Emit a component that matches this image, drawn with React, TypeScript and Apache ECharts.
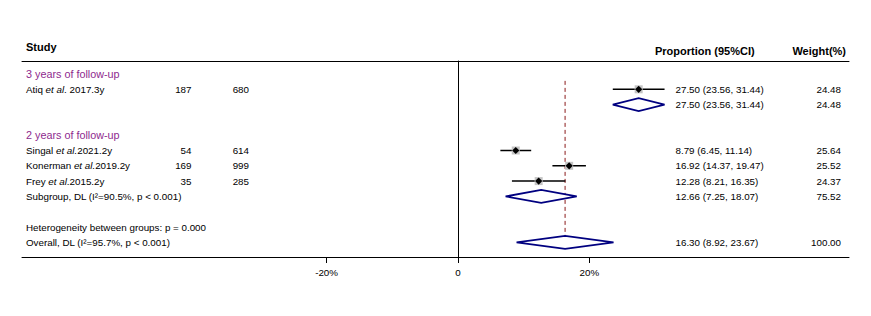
import React, { useEffect, useRef } from "react";
import * as echarts from "echarts";

// ---------- data ----------
const groupTitles = ["3 years of follow-up", "2 years of follow-up"];
const groupRows = [0, 4];

const studyLabels = [
  "{n|Atiq }{i|et al}{n|. 2017.3y}",
  "{n|Singal }{i|et al.}{n|2021.2y}",
  "{n|Konerman }{i|et al.}{n|2019.2y}",
  "{n|Frey }{i|et al}{n|.2015.2y}",
];
const studyRows = [1, 5, 6, 7];
const events = [187, 54, 169, 35];
const totals = [680, 614, 999, 285];
const estimates = [27.5, 8.79, 16.92, 12.28];
const lowers = [23.56, 6.45, 14.37, 8.21];
const uppers = [31.44, 11.14, 19.47, 16.35];
const weights = [24.48, 25.64, 25.52, 24.37];

const pooledLabels = ["", "Subgroup, DL (I²=90.5%, p < 0.001)", "Overall, DL (I²=95.7%, p < 0.001)"];
const pooledRows = [2, 8, 11];
const pooledEst = [27.5, 12.66, 16.3];
const pooledLo = [23.56, 7.25, 8.92];
const pooledHi = [31.44, 18.07, 23.67];
const pooledWeights = [24.48, 75.52, 100.0];

const heterogeneityText = "Heterogeneity between groups: p = 0.000";
const heterogeneityRow = 10;
const overallEstimate = 16.3;
const refLineRows = [0.45, 11.4];
const xTickValues = [-20, 0, 20];

// ---------- layout ----------
const W = 871;
const H = 316;
const ZERO_PX = 458;
const PX_PER_UNIT = 6.57;
const LEFT_PX = 22;
const RIGHT_PX = 849;
const TOP_PX = 61;
const BOTTOM_PX = 257;
const ROW0_PX = 74;
const ROW_H = 15.3;
const FONT = "'Liberation Sans', Arial, sans-serif";
const FS = 9.8;

const rowY = (r: number) => ROW0_PX + ROW_H * r;
const X_MIN = (LEFT_PX - ZERO_PX) / PX_PER_UNIT;
const X_MAX = (RIGHT_PX - ZERO_PX) / PX_PER_UNIT;
const Y_MIN = (TOP_PX - ROW0_PX) / ROW_H;
const Y_MAX = (BOTTOM_PX - ROW0_PX) / ROW_H;

const COL_NAME = 26;
const COL_EVENTS = 191.5;
const COL_TOTAL = 249;
const COL_CI = 675.5;
const COL_WEIGHT = 841;

const fmtCI = (e: number, l: number, h: number) =>
  `${e.toFixed(2)} (${l.toFixed(2)}, ${h.toFixed(2)})`;

function txt(text: string, x: number, y: number, opts: any = {}) {
  return {
    type: "text",
    x,
    y,
    silent: true,
    style: {
      text,
      fontFamily: FONT,
      fontSize: FS,
      fill: "#000",
      align: "left",
      verticalAlign: "middle",
      ...opts,
    },
  };
}

export default function App() {
  const ref = useRef<HTMLDivElement>(null);
  useEffect(() => {
    if (!ref.current) return;
    const chart = echarts.init(ref.current, undefined, { renderer: "svg" });

    const graphics: any[] = [];
    graphics.push(txt("Study", COL_NAME, 47.3, { fontWeight: "bold", fontSize: 11 }));
    graphics.push(txt("Proportion (95%CI)", 655, 50.7, { fontWeight: "bold", fontSize: 11 }));
    graphics.push(txt("Weight(%)", 846, 50.7, { fontWeight: "bold", fontSize: 11, align: "right" }));

    groupTitles.forEach((t, i) => {
      graphics.push(txt(t, COL_NAME, rowY(groupRows[i]), { fill: "#8e2a8e", fontSize: 10.8 }));
    });
    studyLabels.forEach((t, i) => {
      const y = rowY(studyRows[i]);
      graphics.push(
        txt(t, COL_NAME, y, {
          rich: {
            n: { fontFamily: FONT, fontSize: FS, fill: "#000" },
            i: { fontFamily: FONT, fontSize: FS, fill: "#000", fontStyle: "italic" },
          },
        })
      );
      graphics.push(txt(String(events[i]), COL_EVENTS, y, { align: "right" }));
      graphics.push(txt(String(totals[i]), COL_TOTAL, y, { align: "right" }));
      graphics.push(txt(fmtCI(estimates[i], lowers[i], uppers[i]), COL_CI, y));
      graphics.push(txt(weights[i].toFixed(2), COL_WEIGHT, y, { align: "right" }));
    });
    pooledLabels.forEach((t, i) => {
      const y = rowY(pooledRows[i]);
      if (t) graphics.push(txt(t, COL_NAME, y));
      graphics.push(txt(fmtCI(pooledEst[i], pooledLo[i], pooledHi[i]), COL_CI, y));
      graphics.push(txt(pooledWeights[i].toFixed(2), COL_WEIGHT, y, { align: "right" }));
    });
    graphics.push(txt(heterogeneityText, COL_NAME, rowY(heterogeneityRow)));

    const studyData = estimates.map((e, i) => [e, lowers[i], uppers[i], studyRows[i]]);
    const pooledData = pooledEst.map((e, i) => [e, pooledLo[i], pooledHi[i], pooledRows[i]]);

    chart.setOption({
      animation: false,
      grid: {
        left: LEFT_PX,
        right: W - RIGHT_PX,
        top: TOP_PX,
        bottom: H - BOTTOM_PX,
        containLabel: false,
      },
      xAxis: [
        {
          type: "value",
          min: X_MIN,
          max: X_MAX,
          position: "bottom",
          splitLine: { show: false },
          axisLine: { show: true, onZero: false, lineStyle: { color: "#000", width: 1 } },
          axisTick: {
            show: true,
            length: 6,
            customValues: xTickValues,
            lineStyle: { color: "#000", width: 1 },
          },
          axisLabel: {
            show: true,
            customValues: xTickValues,
            margin: 10,
            fontFamily: FONT,
            fontSize: FS,
            color: "#000",
            formatter: (v: number) => (v === 0 ? "0" : `${v}%`),
          },
        },
        {
          type: "value",
          min: X_MIN,
          max: X_MAX,
          position: "top",
          splitLine: { show: false },
          axisLine: { show: true, onZero: false, lineStyle: { color: "#000", width: 1 } },
          axisTick: { show: false },
          axisLabel: { show: false },
        },
      ],
      yAxis: {
        type: "value",
        inverse: true,
        min: Y_MIN,
        max: Y_MAX,
        splitLine: { show: false },
        axisLine: { show: true, onZero: true, lineStyle: { color: "#000", width: 1 } },
        axisTick: { show: false },
        axisLabel: { show: false },
      },
      graphic: graphics,
      series: [
        {
          type: "custom",
          name: "ref",
          xAxisIndex: 0,
          data: [[overallEstimate, refLineRows[0], refLineRows[1]]],
          renderItem: (params: any, api: any) => {
            const a = api.coord([api.value(0), api.value(1)]);
            const b = api.coord([api.value(0), api.value(2)]);
            return {
              type: "line",
              shape: { x1: a[0], y1: a[1], x2: b[0], y2: b[1] },
              style: { stroke: "#8b1a1a", lineWidth: 1, lineDash: [4, 3] },
            };
          },
        },
        {
          type: "custom",
          name: "studies",
          xAxisIndex: 0,
          data: studyData,
          renderItem: (params: any, api: any) => {
            const e = api.value(0);
            const l = api.value(1);
            const h = api.value(2);
            const r = api.value(3);
            const pL = api.coord([l, r]);
            const pH = api.coord([h, r]);
            const pE = api.coord([e, r]);
            const d = 3.6;
            return {
              type: "group",
              children: [
                {
                  type: "line",
                  shape: { x1: pL[0], y1: pL[1], x2: pH[0], y2: pH[1] },
                  style: { stroke: "#000", lineWidth: 1.5 },
                },
                {
                  type: "rect",
                  shape: { x: pE[0] - 4, y: pE[1] - 4, width: 8, height: 8 },
                  style: { fill: "#c4c4c4" },
                },
                {
                  type: "polygon",
                  shape: {
                    points: [
                      [pE[0] - d, pE[1]],
                      [pE[0], pE[1] - d],
                      [pE[0] + d, pE[1]],
                      [pE[0], pE[1] + d],
                    ],
                  },
                  style: { fill: "#000" },
                },
              ],
            };
          },
        },
        {
          type: "custom",
          name: "pooled",
          xAxisIndex: 0,
          data: pooledData,
          renderItem: (params: any, api: any) => {
            const e = api.value(0);
            const l = api.value(1);
            const h = api.value(2);
            const r = api.value(3);
            const pL = api.coord([l, r]);
            const pH = api.coord([h, r]);
            const pE = api.coord([e, r]);
            const hh = 6.5;
            return {
              type: "polygon",
              shape: {
                points: [
                  [pL[0], pL[1]],
                  [pE[0], pE[1] - hh],
                  [pH[0], pH[1]],
                  [pE[0], pE[1] + hh],
                ],
              },
              style: { fill: "#fff", stroke: "#000080", lineWidth: 1.8 },
            };
          },
        },
      ],
    });
    return () => chart.dispose();
  }, []);

  return (
    <div
      ref={ref}
      style={{ position: "fixed", left: 0, top: 0, width: W, height: H, background: "#fff" }}
    />
  );
}
